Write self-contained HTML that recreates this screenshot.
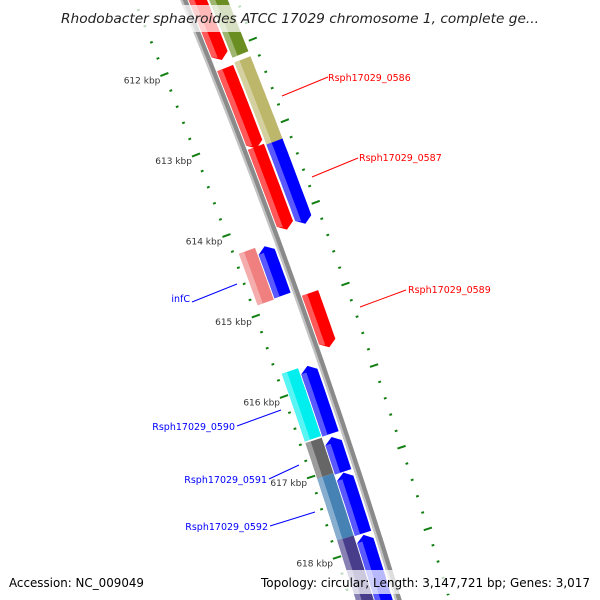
<!DOCTYPE html>
<html><head><meta charset="utf-8"><style>
html,body{margin:0;padding:0;background:#fff;overflow:hidden;width:600px;height:600px;}
svg{display:block;overflow:hidden;}
text{font-family:"DejaVu Sans","Liberation Sans",sans-serif;}
</style></head><body>
<svg id="map" width="600" height="600" viewBox="0 0 600 600" xmlns="http://www.w3.org/2000/svg">
<g id="ticks"></g>
<g id="backbone"></g>
<g id="features"></g>
<g id="labels"></g>
<rect x="55" y="5" width="490" height="27" fill="#fff" opacity="0.72"/>
<text x="300" y="23" text-anchor="middle" font-size="13.5" font-style="italic" fill="#222" textLength="478" lengthAdjust="spacingAndGlyphs">Rhodobacter sphaeroides ATCC 17029 chromosome 1, complete ge...</text>
<rect x="5" y="570" width="144" height="24" fill="#fff" opacity="0.72"/>
<rect x="256" y="570" width="338" height="24" fill="#fff" opacity="0.72"/>
<text x="9" y="587" font-size="12" fill="#000" textLength="135" lengthAdjust="spacingAndGlyphs">Accession: NC_009049</text>
<text x="261" y="587" font-size="12" fill="#000" textLength="329" lengthAdjust="spacingAndGlyphs">Topology: circular; Length: 3,147,721 bp; Genes: 3,017</text>
</svg>
<script>
// feature data (kbp)
const featStart = [611.0, 612.19, 613.16, 614.96, 611.0, 612.17, 613.18, 614.27, 615.75, 616.63, 617.07, 617.84, 614.25, 615.74, 616.60, 617.04, 617.81];
const featEnd   = [612.09, 613.18, 614.18, 615.63, 612.11, 613.20, 614.19, 614.88, 616.59, 617.06, 617.82, 619.0, 614.89, 616.58, 617.04, 617.81, 619.0];
const featTrack = [1, 1, 1, 1, 2, 2, 2, -1, -1, -1, -1, -1, -2, -2, -2, -2, -2];
const featColor = ["#ff0000","#ff0000","#ff0000","#ff0000","#6b8e23","#bdb76b","#0000ff","#0000ff","#0000ff","#0000ff","#0000ff","#0000ff","#f08080","#00eeee","#666666","#4682b4","#483d8b"];
const featArrow = [1, 1, 1, 1, 0, 0, 1, -1, -1, -1, -1, -1, 0, 0, 0, 0, 0];
const tickLabels = [612, 613, 614, 615, 616, 617, 618];
const labelNames = ["Rsph17029_0586","Rsph17029_0587","Rsph17029_0589","infC","Rsph17029_0590","Rsph17029_0591","Rsph17029_0592"];

const NS="http://www.w3.org/2000/svg";
function P(k,r){
  r=r*1.07;
  const u=k-615;
  const Lx=255.8+28.77*u-0.567*u*u, Ly=316+80.5*u;
  const tx=28.77-1.134*u, ty=80.5, len=Math.hypot(tx,ty);
  return [Lx+r*ty/len, Ly-r*tx/len];
}
const trackR={1:[47,63],2:[65,81],"-1":[22,38],"-2":[5,21]};
function band(k1,k2,r1,r2){
  const pts=[];const n=12;
  for(let i=0;i<=n;i++){pts.push(P(k1+(k2-k1)*i/n,r1));}
  for(let i=n;i>=0;i--){pts.push(P(k1+(k2-k1)*i/n,r2));}
  return pts;
}
function lighten(c,f){
  const v=parseInt(c.slice(1),16);let r=v>>16,g=(v>>8)&255,b=v&255;
  r=Math.round(r+(255-r)*f);g=Math.round(g+(255-g)*f);b=Math.round(b+(255-b)*f);
  return "rgb("+r+","+g+","+b+")";
}
function poly(parent,pts,fill,name){
  const p=document.createElementNS(NS,"polygon");
  p.setAttribute("points",pts.map(q=>q[0].toFixed(1)+","+q[1].toFixed(1)).join(" "));
  p.setAttribute("fill",fill);
  
  
  parent.appendChild(p);return p;
}
// ticks
const tg=document.getElementById("ticks");
for(let i=0;i<=40;i++){
  const k=611+i*0.2;const major=Math.abs(k-Math.round(k))<0.01;
  [0,89].forEach(r=>{
    const h=major?4:1.3;
    const a=P(k,r-h),b=P(k,r+h);
    const l=document.createElementNS(NS,"line");
    l.setAttribute("x1",a[0]);l.setAttribute("y1",a[1]);l.setAttribute("x2",b[0]);l.setAttribute("y2",b[1]);
    l.setAttribute("stroke","#127f12");l.setAttribute("stroke-width","2");
    
    
    tg.appendChild(l);
  });
}
tickLabels.forEach(k=>{
  const p=P(k,0);
  const t=document.createElementNS(NS,"text");
  t.setAttribute("x",p[0]-4);t.setAttribute("y",p[1]+9);
  t.setAttribute("text-anchor","end");t.setAttribute("font-size","9");t.setAttribute("fill","#333");
  
  
  t.textContent=k+" kbp";tg.appendChild(t);
});
// backbone
const bg=document.getElementById("backbone");
poly(bg,band(610.5,619.5,40,46),"#8a8a8a","backbone-band");
poly(bg,band(610.5,619.5,40,42),"#c4c4c4","backbone-highlight");
// features
const fg=document.getElementById("features");
for(let i=0;i<featStart.length;i++){
  const [r1,r2]=trackR[featTrack[i]];
  let k1=featStart[i],k2=featEnd[i];
  const ah=0.07, rm=(r1+r2)/2;
  let b1=k1,b2=k2;
  if(featArrow[i]===1)b2=k2-ah;
  if(featArrow[i]===-1)b1=k1+ah;
  let pts=band(b1,b2,r1,r2);
  if(featArrow[i]===1){const n=pts.length/2;pts.splice(n,0,P(k2,rm));}
  if(featArrow[i]===-1){pts.push(P(k1,rm));}
  poly(fg,pts,featColor[i],"feature-"+i);
  const w=(r2-r1)*0.32;
  let lp=band(b1,b2,r1,r1+w);
  if(featArrow[i]===1){const n=lp.length/2;lp.splice(n,0,P(k2-ah*0.6,r1+w));}
  poly(fg,lp,lighten(featColor[i],0.35),"feature-highlight-"+i);
}
// labels
const lg=document.getElementById("labels");
const labelX=[328,359,408,190,235,267,268], labelY=[81,161,293,302,430,483,530];
const labelAnchor=["start","start","start","end","end","end","end"];
const labelColor=["#ff0000","#ff0000","#ff0000","#0000ff","#0000ff","#0000ff","#0000ff"];
const lineFrom=[[282,96],[312,177],[360,307],[237,284],[281,410],[299,465],[315,512]];
const lineTo=[[328,77],[358,158],[406,290],[192,302],[237,426],[269,479],[270,526]];
for(let i=0;i<labelNames.length;i++){
  const l=document.createElementNS(NS,"line");
  l.setAttribute("x1",lineFrom[i][0]);l.setAttribute("y1",lineFrom[i][1]);
  l.setAttribute("x2",lineTo[i][0]);l.setAttribute("y2",lineTo[i][1]);
  l.setAttribute("stroke",labelColor[i]);l.setAttribute("stroke-width","1");
  
  
  lg.appendChild(l);
  const t=document.createElementNS(NS,"text");
  t.setAttribute("x",labelX[i]);t.setAttribute("y",labelY[i]);
  t.setAttribute("text-anchor",labelAnchor[i]);t.setAttribute("font-size","9.5");
  t.setAttribute("fill",labelColor[i]);
  
  
  t.textContent=labelNames[i];lg.appendChild(t);
}
</script>
</body></html>
